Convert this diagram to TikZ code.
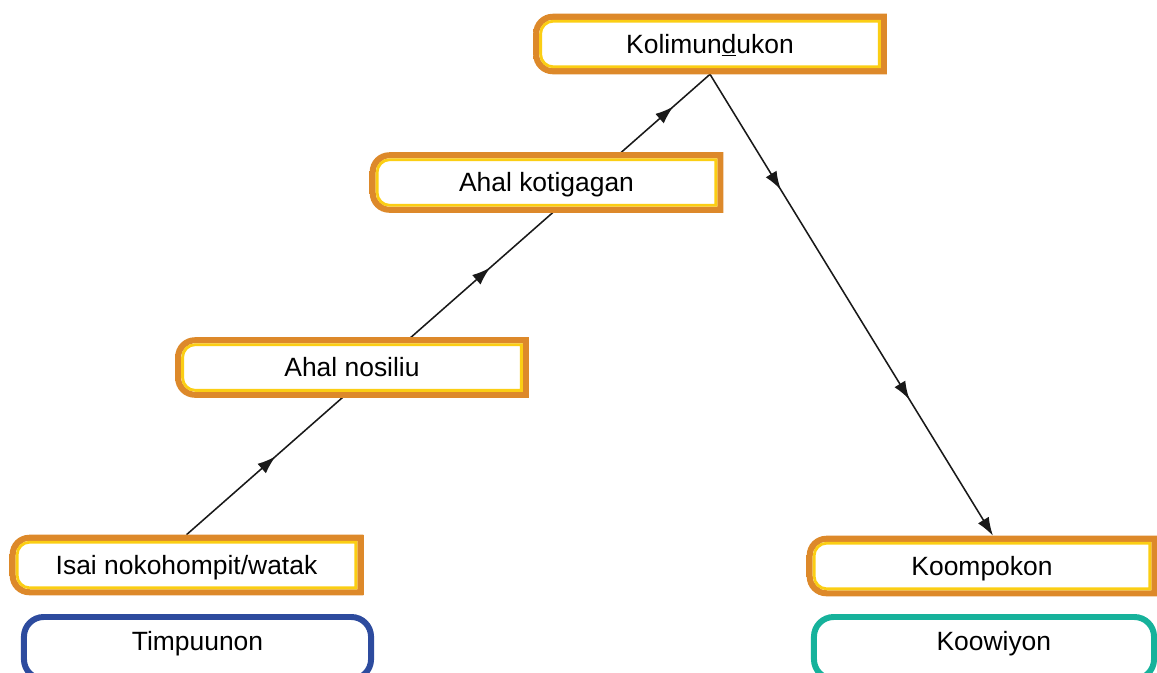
\documentclass[tikz,border=0pt]{standalone}
\usepackage{fontspec}
\setmainfont{Liberation Sans}
\usetikzlibrary{arrows.meta,backgrounds,decorations.markings}
\definecolor{ringorange}{RGB}{221,137,42}
\definecolor{ringgold}{RGB}{246,192,28}
\definecolor{ringyellow}{RGB}{251,206,20}
\definecolor{tagblue}{RGB}{45,75,158}
\definecolor{tagteal}{RGB}{22,178,155}
\tikzset{
  stagebox/.style={fill=white, inner sep=0pt, minimum width=8.825cm, minimum height=1.5cm,
    text height=13.4pt, text depth=0pt, font=\fontsize{18.8}{22}\selectfont},
  tagbox/.style={fill=white, inner sep=0pt, line width=4.25pt, rounded corners=14pt,
    minimum width=8.675cm, minimum height=1.55cm,
    text height=13.4pt, text depth=10pt, font=\fontsize{18.8}{22}\selectfont},
  flowline/.style={line width=1.1pt, black!90},
  tip/.tip={Latex[length=13pt,width=9pt]},
}
\begin{document}
\begin{tikzpicture}[x=0.025cm, y=-0.025cm]
    \useasboundingbox (0,0) rectangle (1157,672);
    \clip (0,0) rectangle (1157,672);

    % stages
    \node[stagebox] (kol) at (710,44) {Kolimun\underline{d}ukon};
    \node[stagebox] (kot) at (546.5,182.5) {Ahal kotigagan};
    \node[stagebox] (nos) at (352,367.5) {Ahal nosiliu};
    \node[stagebox] (isai) at (186.5,565) {Isai nokohompit/watak};
    \node[stagebox, minimum width=8.75cm] (komp) at (982,566) {Koompokon};

    \foreach \n in {kol,kot,nos,isai,komp}{
      \shade[even odd rule, left color=ringorange, middle color=ringgold, right color=ringorange]
        (\n.south) [rounded corners=14pt] -- (\n.south west) -- (\n.north west) -- (\n.north)
        [sharp corners] -- (\n.north east) -- (\n.south east) -- cycle
        ([yshift=4.3pt]\n.south) [rounded corners=10pt] -- ([shift={(4.3pt,4.3pt)}]\n.south west)
        -- ([shift={(4.3pt,-4.3pt)}]\n.north west) -- ([yshift=-4.3pt]\n.north)
        [sharp corners] -- ([shift={(-4.3pt,-4.3pt)}]\n.north east)
        -- ([shift={(-4.3pt,4.3pt)}]\n.south east) -- cycle;
      \draw[ringyellow, line width=2pt]
        ([yshift=5.3pt]\n.south) [rounded corners=9pt] -- ([shift={(5.3pt,5.3pt)}]\n.south west)
        -- ([shift={(5.3pt,-5.3pt)}]\n.north west) -- ([yshift=-5.3pt]\n.north)
        [sharp corners] -- ([shift={(-5.3pt,-5.3pt)}]\n.north east)
        -- ([shift={(-5.3pt,5.3pt)}]\n.south east) -- cycle;
    }

    % bottom tags
    \node[tagbox, draw=tagblue] (tim) at (197.5,648) {Timpuunon};
    \node[tagbox, draw=tagteal, minimum width=8.5cm] (koow) at (984,648) {\hspace{14pt}Koowiyon};

    % connectors
    \begin{scope}[on background layer]
      \draw[flowline, postaction={decorate}, decoration={markings,
          mark=at position 0.17 with {\arrow{tip}},
          mark=at position 0.58 with {\arrow{tip}},
          mark=at position 0.93 with {\arrow{tip}}}]
        (isai.north) -- (kol.south);
      \draw[flowline, -tip, postaction={decorate}, decoration={markings,
          mark=at position 0.25 with {\arrow{tip}},
          mark=at position 0.705 with {\arrow{tip}}}]
        (kol.south) -- ([xshift=7.8pt]komp.north);
    \end{scope}
\end{tikzpicture}
\end{document}
